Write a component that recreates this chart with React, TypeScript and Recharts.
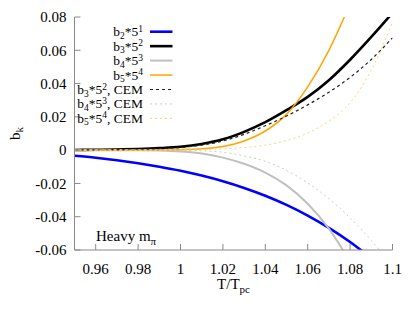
import React from "react";
import { LineChart, Line, XAxis, YAxis, Legend, Customized } from "recharts";

const T = [0.95, 0.96, 0.97, 0.98, 0.99, 1.0, 1.01, 1.02, 1.03, 1.04, 1.05, 1.06, 1.07, 1.08, 1.09, 1.1];
const b2 = [-0.0034, -0.0046, -0.0061, -0.0079, -0.01, -0.0124, -0.0153, -0.0187, -0.0227, -0.0274, -0.0329, -0.0393, -0.0467, -0.0552, -0.0649, null];
const b3 = [0.0001, 0.0002, 0.0004, 0.0007, 0.0012, 0.002, 0.0037, 0.0065, 0.011, 0.0168, 0.024, 0.032, 0.042, 0.0543, 0.068, 0.0825];
const b4 = [0.0, 0.0, 0.0, 0.0, -0.0002, -0.0008, -0.002, -0.0045, -0.0082, -0.0135, -0.0212, -0.0322, -0.0472, -0.0672, null, null];
const b5 = [0.0, 0.0, 0.0, 0.0, 0.0001, 0.0003, 0.0008, 0.0022, 0.0055, 0.0115, 0.0215, 0.038, 0.06, 0.088, null, null];
const b3cem = [0.0001, 0.0002, 0.0003, 0.0005, 0.0009, 0.0016, 0.003, 0.0055, 0.0095, 0.0147, 0.0205, 0.0272, 0.0348, 0.0437, 0.0545, 0.0675];
const b4cem = [0.0, 0.0, 0.0, 0.0, 0.0, -0.0001, -0.0004, -0.0013, -0.0035, -0.0067, -0.0122, -0.0197, -0.0292, -0.0407, -0.0542, -0.0697];
const b5cem = [0.0, 0.0, 0.0, 0.0, 0.0, 0.0001, 0.0003, 0.0008, 0.0016, 0.003, 0.0058, 0.0103, 0.0175, 0.0285, 0.048, 0.077];

const xTicks = [0.96, 0.98, 1.0, 1.02, 1.04, 1.06, 1.08, 1.1];
const yTicks = [-0.06, -0.04, -0.02, 0, 0.02, 0.04, 0.06, 0.08];

// legend label parts: [base, sub, mid, sup, tail]
const legendParts: [string, string, string, string, string][] = [
  ["b", "2", "*5", "1", ""],
  ["b", "3", "*5", "2", ""],
  ["b", "4", "*5", "3", ""],
  ["b", "5", "*5", "4", ""],
  ["b", "3", "*5", "2", ", CEM"],
  ["b", "4", "*5", "3", ", CEM"],
  ["b", "5", "*5", "4", ", CEM"],
];

const series = [
  { key: "b2", data: b2, color: "#0000ff", width: 2.6, dash: undefined },
  { key: "b3", data: b3, color: "#000000", width: 2.6, dash: undefined },
  { key: "b4", data: b4, color: "#c0c0c0", width: 2, dash: undefined },
  { key: "b5", data: b5, color: "#ffa500", width: 1.5, dash: undefined },
  { key: "b3cem", data: b3cem, color: "#222222", width: 1.2, dash: "3 3" },
  { key: "b4cem", data: b4cem, color: "#cccccc", width: 1, dash: "2 3" },
  { key: "b5cem", data: b5cem, color: "#ffcf80", width: 1, dash: "2 3" },
];

const rows = T.map((t, i) => {
  const r: Record<string, number | null> = { t };
  series.forEach((s) => {
    r[s.key] = s.data[i];
  });
  return r;
});

const FONT = "'Liberation Serif', 'Times New Roman', serif";
const AXIS = "#888888";
const TICK_LEN = 6;
const LEFT_MARGIN = 8;
const BOTTOM_MARGIN = 13;

const fmtY = (v: number) => (Math.abs(v) < 1e-9 ? "0" : v.toFixed(2));
const fmtX = (v: number) => String(+v.toFixed(2));

const LeftTick = (p: any) => {
  const { x, y, payload } = p;
  return (
    <g>
      <line x1={x + LEFT_MARGIN} x2={x + LEFT_MARGIN + TICK_LEN} y1={y} y2={y} stroke={AXIS} />
      <text x={x} y={y} dy="0.35em" textAnchor="end" fontFamily={FONT} fontSize={15} fill="#000">
        {fmtY(payload.value)}
      </text>
    </g>
  );
};
const BottomTick = (p: any) => {
  const { x, y, payload } = p;
  return (
    <g>
      <line x1={x} x2={x} y1={y - BOTTOM_MARGIN} y2={y - BOTTOM_MARGIN - TICK_LEN} stroke={AXIS} />
      <text x={x} y={y} dy="0.71em" textAnchor="middle" fontFamily={FONT} fontSize={15} fill="#000">
        {fmtX(payload.value)}
      </text>
    </g>
  );
};
const TopTick = (p: any) => {
  const { x, y } = p;
  return <line x1={x} x2={x} y1={y} y2={y + TICK_LEN} stroke={AXIS} />;
};
const RightTick = (p: any) => {
  const { x, y } = p;
  return <line x1={x - TICK_LEN} x2={x} y1={y} y2={y} stroke={AXIS} />;
};

const LegendContent = () => (
  <svg width={200} height={130} style={{ display: "block" }}>
    {legendParts.map((parts, i) => {
      const s = series[i];
      const ly = 31.7 + i * 14.45;
      return (
        <g key={i}>
          <text x={143} y={ly + 4.5} textAnchor="end" fontFamily={FONT} fontSize={13.5} fill="#000">
            {parts[0]}
            <tspan dy={2.5} fontSize={9.5}>{parts[1]}</tspan>
            <tspan dy={-2.5}>{parts[2]}</tspan>
            <tspan dy={-4.5} fontSize={9.5}>{parts[3]}</tspan>
            <tspan dy={4.5}>{parts[4]}</tspan>
          </text>
          <line x1={150} x2={172.5} y1={ly} y2={ly} stroke={s.color} strokeWidth={s.width} strokeDasharray={s.dash} />
        </g>
      );
    })}
  </svg>
);

const Labels = () => (
  <g fontFamily={FONT} fill="#000">
    <text x={233.5} y={289} textAnchor="middle" fontSize={15}>
      T/T<tspan dy={4} fontSize={11}>pc</tspan>
    </text>
    <text transform="translate(20,133.5) rotate(-90)" textAnchor="middle" fontSize={15}>
      b<tspan dy={2.5} fontSize={11}>k</tspan>
    </text>
    <text x={96} y={241} fontSize={15}>
      Heavy m<tspan dy={4} fontSize={11}>π</tspan>
    </text>
  </g>
);

export default function App() {
  return (
    <div style={{ position: "absolute", left: 0, top: 0, width: 415, height: 312, background: "#fff" }}>
      <LineChart width={415} height={312} data={rows} margin={{ top: 17, right: 22.5, bottom: 32, left: 14.5 }}>
        <XAxis
          dataKey="t"
          type="number"
          domain={[0.95, 1.1]}
          ticks={xTicks}
          interval={0}
          allowDataOverflow
          height={30}
          stroke={AXIS}
          tickLine={false}
          tickSize={0}
          tickMargin={BOTTOM_MARGIN}
          tick={BottomTick}
        />
        <XAxis
          xAxisId="top"
          orientation="top"
          dataKey="t"
          type="number"
          domain={[0.95, 1.1]}
          ticks={xTicks}
          interval={0}
          allowDataOverflow
          height={0}
          stroke={AXIS}
          tickLine={false}
          tickSize={0}
          tickMargin={0}
          tick={TopTick}
        />
        <YAxis
          type="number"
          domain={[-0.06, 0.08]}
          ticks={yTicks}
          interval={0}
          allowDataOverflow
          width={60}
          stroke={AXIS}
          tickLine={false}
          tickSize={0}
          tickMargin={LEFT_MARGIN}
          tick={LeftTick}
        />
        <YAxis
          yAxisId="right"
          orientation="right"
          type="number"
          domain={[-0.06, 0.08]}
          ticks={yTicks}
          interval={0}
          allowDataOverflow
          width={0}
          stroke={AXIS}
          tickLine={false}
          tickSize={0}
          tickMargin={0}
          tick={RightTick}
        />
        {series.map((s) => (
          <Line
            key={s.key}
            dataKey={s.key}
            type="monotone"
            stroke={s.color}
            strokeWidth={s.width}
            strokeDasharray={s.dash}
            dot={false}
            activeDot={false}
            isAnimationActive={false}
          />
        ))}
        <Legend
          layout="vertical"
          align="center"
          verticalAlign="middle"
          content={LegendContent}
          wrapperStyle={{ position: "absolute", left: 0, top: 0, width: 200, height: 130 }}
        />
        <Customized component={Labels} />
      </LineChart>
    </div>
  );
}
